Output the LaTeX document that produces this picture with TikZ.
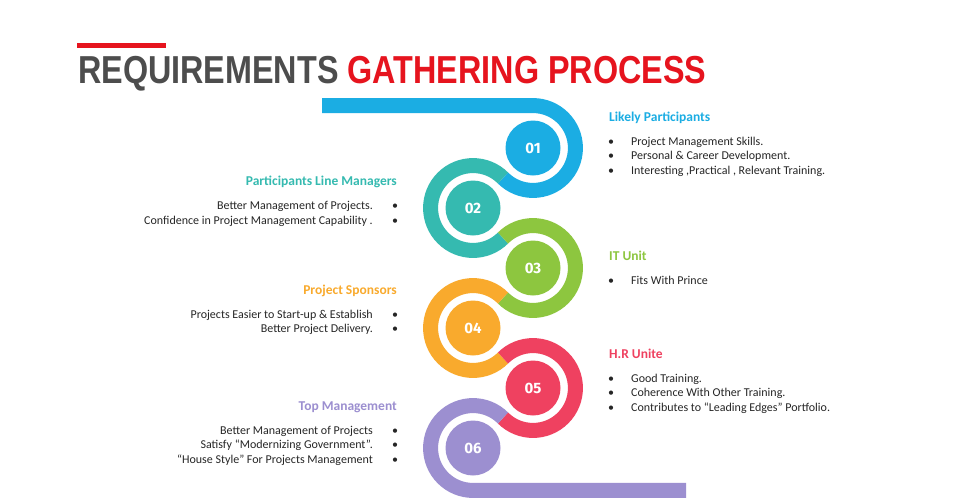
\documentclass[tikz,border=0pt]{standalone}
\usepackage{fontspec}
\usepackage{graphicx}
\setmainfont{Carlito}
\newfontfamily\titlefont{Liberation Sans}
\newfontfamily\numfont{Fira Sans}
\definecolor{cblue}{RGB}{27,173,227}
\definecolor{cteal}{RGB}{53,186,176}
\definecolor{cgreen}{RGB}{141,198,63}
\definecolor{corange}{RGB}{249,170,45}
\definecolor{cred}{RGB}{239,65,96}
\definecolor{cpurple}{RGB}{156,143,208}
\definecolor{tgray}{RGB}{77,77,77}
\definecolor{tred}{RGB}{230,20,30}
\definecolor{tdark}{RGB}{38,38,38}
\begin{document}
\begin{tikzpicture}[x=1pt,y=1pt,
  seg/.style={line width=15, line cap=butt},
  numc/.style={circle, minimum size=55, inner sep=0, text=white,
    font=\numfont\bfseries\fontsize{15}{15}\selectfont},
  hd/.style={inner sep=0, font=\bfseries\fontsize{13.5}{16}\selectfont},
  txt/.style={anchor=base west, inner sep=0, text=tdark, font=\fontsize{12}{14.5}\selectfont},
  rtxt/.style={anchor=base east, inner sep=0, text=tdark, font=\fontsize{12}{14.5}\selectfont},
  bul/.style={anchor=base, inner sep=0, text=tdark, font=\fontsize{12}{14.5}\selectfont}]
\useasboundingbox (0,0) rectangle (967,-501);
\fill[white] (0,0) rectangle (967,-501);
\def\R{42.43}
% title
\draw[tred, line width=4.5] (77,-45.5) -- (166,-45.5);
\node[anchor=base west, inner sep=0] (title) at (78,-83)
  {\scalebox{0.829}[1]{\titlefont\bfseries\fontsize{39}{39}\selectfont\textcolor{tgray}{REQUIREMENTS} \textcolor{tred}{GATHERING PROCESS}}};
% centres
\coordinate (c1) at (533,-148);
\coordinate (c2) at (473,-208);
\coordinate (c3) at (533,-268);
\coordinate (c4) at (473,-328);
\coordinate (c5) at (533,-388);
\coordinate (c6) at (473,-448);
\coordinate (s0) at (322,-105.57);
\coordinate (e6) at (686,-490.43);
% snake
\draw[seg, cblue] (s0) -- ([shift={(90:\R)}]c1) arc[start angle=90, end angle=-135, radius=\R];
\draw[seg, cteal] ([shift={(45:\R)}]c2) arc[start angle=45, end angle=315, radius=\R];
\draw[seg, cgreen] ([shift={(135:\R)}]c3) arc[start angle=135, end angle=-135, radius=\R];
\draw[seg, corange] ([shift={(45:\R)}]c4) arc[start angle=45, end angle=315, radius=\R];
\draw[seg, cred] ([shift={(135:\R)}]c5) arc[start angle=135, end angle=-135, radius=\R];
\draw[seg, cpurple] ([shift={(45:\R)}]c6) arc[start angle=45, end angle=270, radius=\R] -- (e6);
% numbered circles
\node[numc, fill=cblue] (n1) at (c1) {01};
\node[numc, fill=cteal] (n2) at (c2) {02};
\node[numc, fill=cgreen] (n3) at (c3) {03};
\node[numc, fill=corange] (n4) at (c4) {04};
\node[numc, fill=cred] (n5) at (c5) {05};
\node[numc, fill=cpurple] (n6) at (c6) {06};
% 01 Likely Participants
\node[hd, anchor=base west, text=cblue] (h1) at (609,-121) {Likely Participants};
\node[bul] (b1a) at (611,-145) {•};
\node[txt] (t1a) at (631,-145) {Project Management Skills.};
\node[bul] (b1b) at (611,-159.5) {•};
\node[txt] (t1b) at (631,-159.5) {Personal \& Career Development.};
\node[bul] (b1c) at (611,-174) {•};
\node[txt] (t1c) at (631,-174) {Interesting ,Practical , Relevant Training.};
% 02 Participants Line Managers
\node[hd, anchor=base east, text=cteal] (h2) at (397,-185.5) {Participants Line Managers};
\node[bul] (b2a) at (395,-209.5) {•};
\node[rtxt] (t2a) at (373,-209.5) {Better Management of Projects.};
\node[bul] (b2b) at (395,-224) {•};
\node[rtxt] (t2b) at (373,-224) {Confidence in Project Management Capability .};
% 03 IT Unit
\node[hd, anchor=base west, text=cgreen] (h3) at (609,-260.5) {IT Unit};
\node[bul] (b3a) at (611,-284.5) {•};
\node[txt] (t3a) at (631,-284.5) {Fits With Prince};
% 04 Project Sponsors
\node[hd, anchor=base east, text=corange] (h4) at (397,-294.5) {Project Sponsors};
\node[bul] (b4a) at (395,-318) {•};
\node[rtxt] (t4a) at (373,-318) {Projects Easier to Start-up \& Establish};
\node[bul] (b4b) at (395,-332.5) {•};
\node[rtxt] (t4b) at (373,-332.5) {Better Project Delivery.};
% 05 H.R Unite
\node[hd, anchor=base west, text=cred] (h5) at (609,-358) {H.R Unite};
\node[bul] (b5a) at (611,-382) {•};
\node[txt] (t5a) at (631,-382) {Good Training.};
\node[bul] (b5b) at (611,-396.5) {•};
\node[txt] (t5b) at (631,-396.5) {Coherence With Other Training.};
\node[bul] (b5c) at (611,-411) {•};
\node[txt] (t5c) at (631,-411) {Contributes to “Leading Edges” Portfolio.};
% 06 Top Management
\node[hd, anchor=base east, text=cpurple] (h6) at (397,-410) {Top Management};
\node[bul] (b6a) at (395,-434) {•};
\node[rtxt] (t6a) at (373,-434) {Better Management of Projects};
\node[bul] (b6b) at (395,-448.5) {•};
\node[rtxt] (t6b) at (373,-448.5) {Satisfy “Modernizing Government”.};
\node[bul] (b6c) at (395,-463) {•};
\node[rtxt] (t6c) at (373,-463) {“House Style” For Projects Management};
\end{tikzpicture}
\end{document}
